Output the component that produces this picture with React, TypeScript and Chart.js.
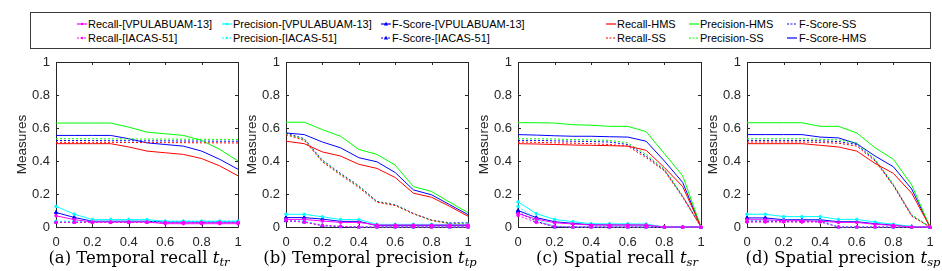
import React, { useEffect, useRef } from 'react';
import { Chart, registerables } from 'chart.js';
Chart.register(...registerables);

// ---------- data ----------
const xValues = [0, 0.1, 0.2, 0.3, 0.4, 0.5, 0.6, 0.7, 0.8, 0.9, 1];
const tickValues = [0, 0.2, 0.4, 0.6, 0.8, 1];
const xTickLabels = ['0', '0.2', '0.4', '0.6', '0.8', '1'];
const yTickLabels = ['0', '0.2', '0.4', '0.6', '0.8', '1'];
const yAxisTitle = 'Measures';

const seriesLabels = [
  'Recall-[VPULABUAM-13]', 'Recall-[IACAS-51]',
  'Precision-[VPULABUAM-13]', 'Precision-[IACAS-51]',
  'F-Score-[VPULABUAM-13]', 'F-Score-[IACAS-51]',
  'Recall-HMS', 'Recall-SS',
  'Precision-HMS', 'Precision-SS',
  'F-Score-SS', 'F-Score-HMS',
];
const seriesColors = ['#ff00ff', '#ff00ff', '#00ffff', '#00ffff', '#0000ff', '#0000ff', '#ff0000', '#ff0000', '#00ff00', '#00ff00', '#0000ff', '#0000ff'];
const seriesDotted = [false, true, false, true, false, true, false, true, false, true, true, false];
const seriesMarkers: (string | null)[] = ['circle', 'circle', 'circle', 'circle', 'triangle', 'triangle', null, null, null, null, null, null];

// (a) Temporal recall
const recVPU_a = [0.068, 0.045, 0.03, 0.03, 0.03, 0.03, 0.02, 0.02, 0.02, 0.02, 0.02];
const recIACAS_a = [0.028, 0.028, 0.028, 0.028, 0.028, 0.028, 0.028, 0.028, 0.028, 0.028, 0.028];
const precVPU_a = [0.125, 0.078, 0.045, 0.045, 0.045, 0.045, 0.035, 0.035, 0.035, 0.035, 0.035];
const precIACAS_a = [0.035, 0.035, 0.035, 0.035, 0.035, 0.035, 0.035, 0.035, 0.035, 0.035, 0.035];
const fVPU_a = [0.088, 0.058, 0.035, 0.035, 0.035, 0.035, 0.03, 0.03, 0.03, 0.03, 0.03];
const fIACAS_a = [0.03, 0.03, 0.03, 0.03, 0.03, 0.03, 0.03, 0.03, 0.03, 0.03, 0.03];
const recHMS_a = [0.505, 0.505, 0.505, 0.505, 0.485, 0.46, 0.45, 0.44, 0.415, 0.37, 0.31];
const recSS_a = [0.513, 0.513, 0.513, 0.513, 0.512, 0.512, 0.511, 0.511, 0.51, 0.51, 0.509];
const precHMS_a = [0.63, 0.63, 0.63, 0.63, 0.605, 0.575, 0.565, 0.555, 0.525, 0.47, 0.4];
const precSS_a = [0.535, 0.535, 0.535, 0.534, 0.534, 0.533, 0.533, 0.532, 0.532, 0.531, 0.531];
const fSS_a = [0.524, 0.524, 0.524, 0.523, 0.523, 0.522, 0.522, 0.521, 0.521, 0.52, 0.52];
const fHMS_a = [0.555, 0.555, 0.555, 0.555, 0.535, 0.51, 0.5, 0.49, 0.46, 0.41, 0.35];

// (b) Temporal precision
const recVPU_b = [0.046, 0.046, 0.036, 0.028, 0.028, 0.012, 0.012, 0.012, 0.012, 0.012, 0.012];
const recIACAS_b = [0.04, 0.03, 0.01, 0.004, 0, 0, 0, 0, 0, 0, 0];
const precVPU_b = [0.077, 0.077, 0.062, 0.045, 0.045, 0.016, 0.016, 0.016, 0.016, 0.016, 0.016];
const precIACAS_b = [0.045, 0.035, 0.012, 0.004, 0, 0, 0, 0, 0, 0, 0];
const fVPU_b = [0.057, 0.057, 0.048, 0.034, 0.034, 0.008, 0.008, 0.008, 0.008, 0.008, 0.008];
const fIACAS_b = [0.038, 0.03, 0.008, 0.002, 0, 0, 0, 0, 0, 0, 0];
const recHMS_b = [0.52, 0.505, 0.455, 0.43, 0.38, 0.355, 0.3, 0.205, 0.18, 0.125, 0.065];
const recSS_b = [0.56, 0.525, 0.395, 0.315, 0.24, 0.15, 0.13, 0.08, 0.04, 0.02, 0.015];
const precHMS_b = [0.635, 0.635, 0.59, 0.55, 0.47, 0.44, 0.375, 0.245, 0.215, 0.15, 0.087];
const precSS_b = [0.565, 0.53, 0.4, 0.32, 0.245, 0.152, 0.133, 0.08, 0.04, 0.022, 0.018];
const fSS_b = [0.57, 0.535, 0.405, 0.325, 0.25, 0.155, 0.135, 0.082, 0.042, 0.025, 0.025];
const fHMS_b = [0.57, 0.56, 0.515, 0.48, 0.42, 0.395, 0.33, 0.225, 0.195, 0.135, 0.075];

// (c) Spatial recall
const recVPU_c = [0.081, 0.048, 0.026, 0.018, 0.012, 0.012, 0.012, 0.012, 0, 0, 0];
const recIACAS_c = [0.07, 0.028, 0.004, 0, 0, 0, 0, 0, 0, 0, 0];
const precVPU_c = [0.152, 0.081, 0.046, 0.032, 0.02, 0.019, 0.019, 0.018, 0, 0, 0];
const precIACAS_c = [0.125, 0.045, 0.005, 0, 0, 0, 0, 0, 0, 0, 0];
const fVPU_c = [0.1, 0.057, 0.032, 0.022, 0.014, 0.013, 0.013, 0.012, 0, 0, 0];
const fIACAS_c = [0.09, 0.035, 0, 0, 0, 0, 0, 0, 0, 0, 0];
const recHMS_c = [0.505, 0.503, 0.5, 0.497, 0.495, 0.493, 0.49, 0.465, 0.36, 0.245, 0];
const recSS_c = [0.515, 0.513, 0.51, 0.508, 0.505, 0.5, 0.49, 0.42, 0.34, 0.18, 0];
const precHMS_c = [0.632, 0.632, 0.63, 0.62, 0.617, 0.61, 0.61, 0.578, 0.445, 0.31, 0];
const precSS_c = [0.535, 0.535, 0.533, 0.53, 0.528, 0.525, 0.51, 0.44, 0.35, 0.19, 0];
const fSS_c = [0.525, 0.525, 0.522, 0.52, 0.518, 0.515, 0.5, 0.43, 0.345, 0.185, 0];
const fHMS_c = [0.56, 0.557, 0.553, 0.55, 0.55, 0.547, 0.545, 0.52, 0.4, 0.27, 0];

// (d) Spatial precision
const recVPU_d = [0.044, 0.044, 0.038, 0.038, 0.035, 0.028, 0.028, 0.016, 0.01, 0, 0];
const recIACAS_d = [0.03, 0.03, 0.03, 0.03, 0.03, 0, 0, 0, 0, 0, 0];
const precVPU_d = [0.077, 0.077, 0.063, 0.063, 0.063, 0.046, 0.046, 0.03, 0.016, 0.004, 0];
const precIACAS_d = [0.04, 0.04, 0.04, 0.04, 0.04, 0, 0, 0, 0, 0, 0];
const fVPU_d = [0.055, 0.055, 0.044, 0.044, 0.044, 0.032, 0.032, 0.02, 0.012, 0.002, 0];
const fIACAS_d = [0.035, 0.035, 0.035, 0.035, 0.035, 0, 0, 0, 0, 0, 0];
const recHMS_d = [0.505, 0.505, 0.505, 0.505, 0.495, 0.485, 0.46, 0.385, 0.325, 0.205, 0];
const recSS_d = [0.515, 0.515, 0.515, 0.515, 0.512, 0.508, 0.49, 0.4, 0.25, 0.065, 0];
const precHMS_d = [0.632, 0.632, 0.632, 0.632, 0.61, 0.61, 0.57, 0.48, 0.41, 0.255, 0];
const precSS_d = [0.535, 0.535, 0.535, 0.535, 0.532, 0.528, 0.51, 0.41, 0.26, 0.075, 0];
const fSS_d = [0.525, 0.525, 0.525, 0.525, 0.522, 0.518, 0.5, 0.405, 0.255, 0.07, 0];
const fHMS_d = [0.56, 0.56, 0.56, 0.56, 0.545, 0.54, 0.505, 0.43, 0.365, 0.23, 0];

const panelSeries = [
  [recVPU_a, recIACAS_a, precVPU_a, precIACAS_a, fVPU_a, fIACAS_a, recHMS_a, recSS_a, precHMS_a, precSS_a, fSS_a, fHMS_a],
  [recVPU_b, recIACAS_b, precVPU_b, precIACAS_b, fVPU_b, fIACAS_b, recHMS_b, recSS_b, precHMS_b, precSS_b, fSS_b, fHMS_b],
  [recVPU_c, recIACAS_c, precVPU_c, precIACAS_c, fVPU_c, fIACAS_c, recHMS_c, recSS_c, precHMS_c, precSS_c, fSS_c, fHMS_c],
  [recVPU_d, recIACAS_d, precVPU_d, precIACAS_d, fVPU_d, fIACAS_d, recHMS_d, recSS_d, precHMS_d, precSS_d, fSS_d, fHMS_d],
];

const captionPrefixes = ['(a) Temporal recall ', '(b) Temporal precision ', '(c) Spatial recall ', '(d) Spatial precision '];
const captionSubs = ['tr', 'tp', 'sr', 'sp'];

// ---------- layout ----------
const PLOT_LEFTS = [56, 286, 518, 747];
const PLOT_WIDTHS = [182, 182, 183, 183];
const PLOT_TOP = 62;
const PLOT_H = 165;
const YAXIS_W = 56;
const XAXIS_H = 24;
const PAD_TOP = 14;
const PAD_RIGHT = 13;
const CAPTION_CENTERS = [139, 370, 617, 843];
const AXIS_COLOR = '#262626';
const SANS = "'Liberation Sans', Arial, Helvetica, sans-serif";

const legendCols = [
  { sx: 77, tx: 88, items: [0, 1] },
  { sx: 222, tx: 233, items: [2, 3] },
  { sx: 381, tx: 392, items: [4, 5] },
  { sx: 606, tx: 617, items: [6, 7] },
  { sx: 689, tx: 700, items: [8, 9] },
  { sx: 787, tx: 799, items: [10, 11] },
];
const legendRowY = [24, 38];

const boxPlugin = {
  id: 'matlabBox',
  beforeDatasetsDraw(chart: any) {
    const { ctx, chartArea, scales } = chart;
    const { left, right, top, bottom } = chartArea;
    const x = scales.x;
    const y = scales.y;
    ctx.save();
    ctx.strokeStyle = AXIS_COLOR;
    ctx.lineWidth = 1;
    ctx.beginPath();
    ctx.rect(Math.round(left) + 0.5, Math.round(top) + 0.5, Math.round(right - left), Math.round(bottom - top));
    const tl = 3;
    for (const v of tickValues) {
      const px = Math.round(x.getPixelForValue(v)) + 0.5;
      ctx.moveTo(px, bottom); ctx.lineTo(px, bottom - tl);
      ctx.moveTo(px, top); ctx.lineTo(px, top + tl);
      const py = Math.round(y.getPixelForValue(v)) + 0.5;
      ctx.moveTo(left, py); ctx.lineTo(left + tl, py);
      ctx.moveTo(right, py); ctx.lineTo(right - tl, py);
    }
    ctx.stroke();
    ctx.restore();
  },
};

function makeConfig(series: number[][]): any {
  const datasets = series.map((vals, i) => ({
    label: seriesLabels[i],
    data: vals.map((v, k) => ({ x: xValues[k], y: v })),
    borderColor: seriesColors[i],
    backgroundColor: seriesColors[i],
    borderWidth: 1,
    borderDash: seriesDotted[i] ? [2, 2] : [],
    pointRadius: seriesMarkers[i] ? (seriesMarkers[i] === 'triangle' ? 2 : 1.3) : 0,
    pointStyle: seriesMarkers[i] || 'circle',
    pointBorderWidth: 1,
    tension: 0,
    clip: false,
    order: i < 6 ? 0 : 1,
  }));
  return {
    type: 'line',
    data: { datasets },
    plugins: [boxPlugin],
    options: {
      animation: false,
      responsive: false,
      maintainAspectRatio: false,
      devicePixelRatio: 1,
      events: [],
      layout: { padding: { left: 0, top: PAD_TOP, right: PAD_RIGHT, bottom: 0 } },
      plugins: { legend: { display: false }, tooltip: { enabled: false } },
      scales: {
        x: {
          type: 'linear',
          min: 0,
          max: 1,
          grid: { display: false, drawTicks: false },
          border: { display: false },
          afterBuildTicks: (s: any) => { s.ticks = tickValues.map((v) => ({ value: v })); },
          afterFit: (s: any) => { s.height = XAXIS_H; },
          ticks: {
            padding: 8,
            color: AXIS_COLOR,
            font: { family: SANS, size: 13 },
            maxRotation: 0,
            autoSkip: false,
            callback: (_v: any, idx: number) => xTickLabels[idx],
          },
        },
        y: {
          type: 'linear',
          min: 0,
          max: 1,
          grid: { display: false, drawTicks: false },
          border: { display: false },
          afterBuildTicks: (s: any) => { s.ticks = tickValues.map((v) => ({ value: v })); },
          afterFit: (s: any) => { s.width = YAXIS_W; },
          title: {
            display: true,
            text: yAxisTitle,
            color: AXIS_COLOR,
            font: { family: SANS, size: 13.5 },
            padding: { top: 14, bottom: 0 },
          },
          ticks: {
            padding: 6,
            color: AXIS_COLOR,
            font: { family: SANS, size: 13 },
            autoSkip: false,
            callback: (_v: any, idx: number) => yTickLabels[idx],
          },
        },
      },
    },
  };
}

function LegendSample({ idx }: { idx: number }) {
  const color = seriesColors[idx];
  const marker = seriesMarkers[idx];
  return (
    <svg width={11} height={6} style={{ display: 'block' }}>
      <line x1={0} y1={3} x2={10} y2={3} stroke={color} strokeWidth={1.2} strokeDasharray={seriesDotted[idx] ? '2,1.5' : undefined} />
      {marker === 'circle' && <circle cx={5} cy={3} r={1.2} fill={color} />}
      {marker === 'triangle' && <polygon points="5,0.8 7.2,4.5 2.8,4.5" fill={color} />}
    </svg>
  );
}

export default function App() {
  const refs = [useRef<HTMLCanvasElement>(null), useRef<HTMLCanvasElement>(null), useRef<HTMLCanvasElement>(null), useRef<HTMLCanvasElement>(null)];

  useEffect(() => {
    const charts = refs.map((r, i) => new Chart(r.current as HTMLCanvasElement, makeConfig(panelSeries[i])));
    return () => charts.forEach((c) => c.destroy());
  }, []);

  return (
    <div style={{ position: 'fixed', left: 0, top: 0, width: 942, height: 271, background: '#fff', overflow: 'hidden' }}>
      {/* legend */}
      <div style={{ position: 'absolute', left: 30, top: 12, width: 899, height: 35, border: '1.5px solid #3a3a3a', boxSizing: 'content-box' }} />
      {legendCols.map((col, ci) =>
        col.items.map((idx, ri) => (
          <React.Fragment key={`${ci}-${ri}`}>
            <div style={{ position: 'absolute', left: col.sx, top: legendRowY[ri] - 3 }}>
              <LegendSample idx={idx} />
            </div>
            <div style={{ position: 'absolute', left: col.tx, top: legendRowY[ri] - 7, height: 14, lineHeight: '14px', fontFamily: SANS, fontSize: 11, color: '#000', whiteSpace: 'nowrap' }}>
              {seriesLabels[idx]}
            </div>
          </React.Fragment>
        ))
      )}
      {/* panels */}
      {PLOT_LEFTS.map((pl, i) => {
        const w = YAXIS_W + PLOT_WIDTHS[i] + PAD_RIGHT;
        const h = PAD_TOP + PLOT_H + XAXIS_H;
        return (
          <canvas
            key={i}
            ref={refs[i]}
            width={w}
            height={h}
            style={{ position: 'absolute', left: pl - YAXIS_W, top: PLOT_TOP - PAD_TOP, width: w, height: h }}
          />
        );
      })}
      {CAPTION_CENTERS.map((cx, i) => (
        <div
          key={i}
          style={{ position: 'absolute', left: cx - 150, top: 250, width: 300, textAlign: 'center', fontFamily: "'DejaVu Serif', serif", fontSize: 16.5, lineHeight: '16px', color: '#000', whiteSpace: 'nowrap' }}
        >
          {captionPrefixes[i]}
          <i>t</i>
          <sub style={{ fontSize: '70%', fontStyle: 'italic', verticalAlign: '-0.3em', lineHeight: 0 }}>{captionSubs[i]}</sub>
        </div>
      ))}
    </div>
  );
}
